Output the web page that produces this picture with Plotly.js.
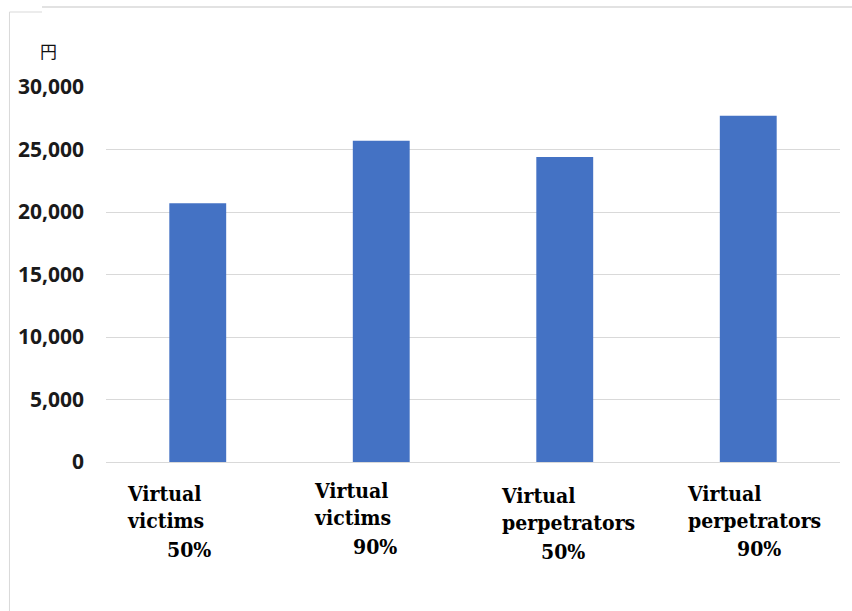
<!DOCTYPE html>
<html>
<head>
<meta charset="utf-8">
<script src="https://cdn.plot.ly/plotly-3.0.1.min.js"></script>
<style>html,body{margin:0;padding:0;background:#fff;}#chart{width:852px;height:611px;}</style>
</head>
<body>
<div id="chart"></div>
<script>
// ---- data ----
var categories = ["VV50", "VV90", "VP50", "VP90"];
var groupNames = ["Virtual<br>victims", "Virtual<br>victims", "Virtual<br>perpetrators", "Virtual<br>perpetrators"];
var percentLabels = ["50%", "90%", "50%", "90%"];
var values = [20700, 25700, 24400, 27700];
var yTickValues = [0, 5000, 10000, 15000, 20000, 25000, 30000];
var unitLabel = "円";

// ---- style (positions only) ----
var nameShiftX = [-72.75, -69.25, -65.75, -63.25];
var nameShiftY = [-17.4, -14.4, -19.4, -17.4];
var pctShiftX = [-32.75, -30.25, -25.75, -13.25];
var pctShiftY = [-73.4, -70.4, -75.4, -72.4];

var serifFamily = "DejaVu Serif Condensed";
var labelFont = {family: serifFamily, size: 21, color: "#000000", weight: "bold"};

var annotations = [];
for (var i = 0; i < categories.length; i++) {
  annotations.push({
    xref: "x", yref: "paper", x: categories[i], y: 0,
    xanchor: "left", yanchor: "top", align: "left",
    xshift: nameShiftX[i], yshift: nameShiftY[i],
    text: groupNames[i], showarrow: false, font: labelFont
  });
  annotations.push({
    xref: "x", yref: "paper", x: categories[i], y: 0,
    xanchor: "left", yanchor: "top", align: "left",
    xshift: pctShiftX[i], yshift: pctShiftY[i],
    text: percentLabels[i], showarrow: false, font: labelFont
  });
}
annotations.push({
  xref: "paper", yref: "paper", x: -0.0783, y: 1.0973,
  xanchor: "center", yanchor: "middle", text: unitLabel, showarrow: false,
  font: {family: "Noto Sans CJK JP", size: 17, color: "#111111"}
});

var borderColor = "#d9d9d9";
var shapes = [
  {type: "line", xref: "paper", yref: "paper", x0: -0.1315, x1: -0.1315, y0: 1.2, y1: -0.4, line: {color: borderColor, width: 1}},
  {type: "line", xref: "paper", yref: "paper", x0: -0.0872, x1: 1.02, y0: 1.2133, y1: 1.2133, line: {color: borderColor, width: 1.5}},
  {type: "line", xref: "paper", yref: "paper", x0: -0.1315, x1: -0.0872, y0: 1.2, y1: 1.2, line: {color: borderColor, width: 1}}
];

var trace = {
  type: "bar",
  x: categories,
  y: values,
  marker: {color: "#4472C4"},
  hoverinfo: "none"
};

var layout = {
  width: 852, height: 611,
  margin: {l: 106, r: 12, t: 87, b: 149, pad: 0},
  paper_bgcolor: "#ffffff", plot_bgcolor: "#ffffff",
  showlegend: false,
  bargap: 0.69,
  xaxis: {
    type: "category", showticklabels: false, showgrid: false, zeroline: false,
    showline: false, ticks: "", fixedrange: true
  },
  yaxis: {
    range: [0, 30000], tickvals: yTickValues, tickformat: ",d",
    showgrid: true, gridcolor: "#d9d9d9", gridwidth: 1,
    zeroline: true, zerolinecolor: "#d9d9d9", zerolinewidth: 1,
    showline: false, ticks: "", ticklabelstandoff: 21,
    tickfont: {family: "Open Sans", size: 21, color: "#1a1a1a", weight: "bold"},
    fixedrange: true
  },
  annotations: annotations,
  shapes: shapes
};

Plotly.newPlot("chart", [trace], layout, {displayModeBar: false, staticPlot: true});
</script>
</body>
</html>
